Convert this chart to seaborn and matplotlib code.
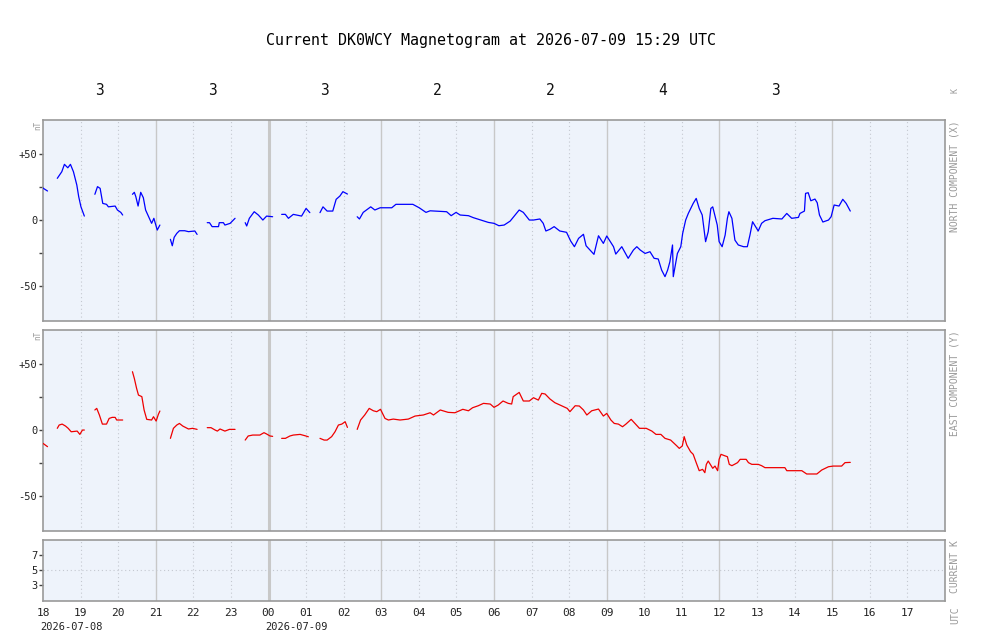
import numpy as np
import pandas as pd
import matplotlib
matplotlib.use("Agg")
import matplotlib.pyplot as plt
import seaborn as sns

nan = np.nan

title = "Current DK0WCY Magnetogram at 2026-07-09 15:29 UTC"
hour_labels = ["18", "19", "20", "21", "22", "23", "00", "01", "02", "03", "04", "05",
               "06", "07", "08", "09", "10", "11", "12", "13", "14", "15", "16", "17"]
date_labels = ["2026-07-08", "2026-07-09"]
date_hours = [0, 6]
k_index = [3, 3, 3, 2, 2, 4, 3]

# hours since 2026-07-08 18:00 UTC, nan marks a data gap
north_h = [0.0, 0.12, nan,
           0.38, 0.5, 0.57, 0.66, 0.73, 0.81, 0.9, 0.95, 1.01, 1.1, nan,
           1.38, 1.45, 1.52, 1.59, 1.69, 1.74, 1.92, 1.98, 2.07, 2.12, nan,
           2.38, 2.43, 2.47, 2.53, 2.6, 2.67, 2.73, 2.83, 2.89, 2.95, 3.04, 3.11, nan,
           3.39, 3.44, 3.49, 3.56, 3.63, 3.77, 3.87, 4.04, 4.1, nan,
           4.37, 4.43, 4.5, 4.67, 4.69, 4.8, 4.84, 4.98, 5.11, nan,
           5.38, 5.42, 5.49, 5.62, 5.73, 5.85, 5.95, 6.11, nan,
           6.35, 6.45, 6.53, 6.66, 6.88, 7.0, 7.1, nan,
           7.37, 7.45, 7.56, 7.71, 7.8, 7.9, 7.98, 8.1, nan,
           8.36, 8.42, 8.52, 8.72, 8.83, 8.97, 9.28, 9.39, 9.84, 10.01, 10.19, 10.3,
           10.74, 10.86, 10.99, 11.1, 11.32, 11.45, 11.65, 11.85, 12.0, 12.13, 12.27, 12.43,
           12.67, 12.78, 12.94, 13.05, 13.22, 13.31, 13.38, 13.49, 13.6, 13.75, 13.93, 14.04,
           14.14, 14.25, 14.38, 14.45, 14.66, 14.78, 14.91, 15.0, 15.18, 15.24, 15.4, 15.57,
           15.71, 15.8, 15.89, 16.02, 16.15, 16.26, 16.37, 16.46, 16.55, 16.62, 16.68, 16.75,
           16.77, 16.88, 16.97, 17.02, 17.1, 17.17, 17.3, 17.38, 17.46, 17.54, 17.63, 17.7,
           17.77, 17.82, 17.94, 17.99, 18.07, 18.15, 18.21, 18.25, 18.33, 18.41, 18.5, 18.64,
           18.74, 18.81, 18.88, 19.03, 19.12, 19.21, 19.42, 19.66, 19.79, 19.92, 20.1, 20.14,
           20.26, 20.29, 20.36, 20.43, 20.54, 20.6, 20.66, 20.75, 20.9, 20.97, 21.05, 21.18,
           21.28, 21.37, 21.48]
north_nt = [24.2, 22, nan,
            31.6, 36.6, 42.2, 39.6, 42.2, 36.6, 26.5, 17.7, 10, 3, nan,
            19.5, 25.3, 24, 12.6, 11.9, 10, 10.6, 7.6, 5.8, 3.8, nan,
            19.5, 21, 17.7, 10.6, 21, 16.9, 7.6, 1.3, -2.5, 1.3, -7.6, -3.8, nan,
            -14.6, -19.5, -13.1, -10.1, -8.1, -8.1, -8.8, -8.3, -10.9, nan,
            -2, -2, -5, -5, -2, -2, -3.8, -2.5, 1.3, nan,
            -2, -4.5, 1.3, 6.3, 3.8, 0, 3, 2.5, nan,
            4.3, 4.3, 1.3, 4.3, 3, 8.8, 5.6, nan,
            5.6, 10, 6.8, 6.8, 15.7, 18.2, 21.5, 19.7, nan,
            2.5, 0.8, 5.8, 10, 7.6, 9.3, 9.3, 11.9, 11.9, 9.3, 5.8, 7,
            6.3, 3.3, 5.8, 3.8, 3.3, 1.8, 0, -1.8, -2.5, -4.3, -3.8, -0.8,
            7.6, 5.8, 0, 0, 0.8, -2.5, -8.3, -7, -5, -8.3, -9.3, -15.9,
            -20.2, -13.9, -10.8, -19.5, -26, -11.9, -17.7, -12.1, -20.2, -25.8, -20.2, -29,
            -22.7, -20.2, -22.7, -25.3, -24, -29, -29.5, -37.9, -42.9, -37.9, -31.6, -18.9,
            -42.9, -25.3, -20.2, -10.1, 0, 5, 12.6, 16.4, 8.8, 3.8, -16.4, -8.8,
            8.8, 10, -3.8, -16.4, -20.2, -11.4, 1.3, 6.3, 1.3, -15.2, -18.9, -20.2,
            -20.2, -11.4, -1.3, -8.3, -2.5, -0.5, 1.3, 0.8, 5, 1.3, 2, 5,
            6.8, 20.2, 20.7, 14.6, 15.9, 13.1, 3.8, -1.5, 0, 2.5, 11.4, 10.6,
            15.7, 12.6, 6.8]

east_h = [0.0, 0.12, nan,
          0.38, 0.43, 0.51, 0.6, 0.67, 0.75, 0.91, 0.98, 1.05, 1.1, nan,
          1.38, 1.43, 1.5, 1.58, 1.69, 1.76, 1.84, 1.92, 1.96, 2.12, nan,
          2.38, 2.43, 2.49, 2.54, 2.63, 2.69, 2.76, 2.89, 2.94, 3.01, 3.07, 3.11, nan,
          3.39, 3.47, 3.56, 3.63, 3.72, 3.87, 3.98, 4.1, nan,
          4.37, 4.47, 4.58, 4.64, 4.71, 4.84, 4.96, 5.11, nan,
          5.38, 5.46, 5.58, 5.77, 5.88, 5.95, 6.04, 6.11, nan,
          6.35, 6.45, 6.57, 6.66, 6.84, 6.97, 7.06, nan,
          7.37, 7.48, 7.56, 7.68, 7.77, 7.86, 7.95, 8.04, 8.1, nan,
          8.36, 8.45, 8.56, 8.68, 8.79, 8.88, 8.98, 9.1, 9.19, 9.32, 9.5, 9.72,
          9.9, 10.12, 10.3, 10.39, 10.57, 10.78, 10.96, 11.17, 11.32, 11.43, 11.58, 11.72,
          11.9, 12.0, 12.11, 12.24, 12.38, 12.47, 12.51, 12.67, 12.78, 12.94, 13.05, 13.18,
          13.27, 13.36, 13.49, 13.62, 13.76, 13.95, 14.02, 14.16, 14.27, 14.38, 14.47, 14.6,
          14.78, 14.91, 15.0, 15.11, 15.2, 15.31, 15.42, 15.51, 15.65, 15.75, 15.87, 16.05,
          16.2, 16.31, 16.44, 16.55, 16.7, 16.86, 16.93, 17.01, 17.06, 17.13, 17.23, 17.3,
          17.38, 17.46, 17.55, 17.61, 17.65, 17.7, 17.82, 17.88, 17.95, 17.99, 18.04, 18.13,
          18.21, 18.26, 18.33, 18.41, 18.48, 18.55, 18.71, 18.77, 18.86, 19.03, 19.12, 19.21,
          19.43, 19.74, 19.79, 19.92, 20.19, 20.32, 20.59, 20.72, 20.9, 21.03, 21.25, 21.34,
          21.48]
east_nt = [-10.1, -12.6, nan,
           1.3, 3.8, 4.5, 3, 1.3, -1.3, -0.8, -3.3, 0, 0, nan,
           15.2, 16.4, 11.4, 4.5, 4.5, 8.8, 9.6, 9.6, 7.6, 7.6, nan,
           44.2, 39.1, 31.6, 26.5, 25.3, 15.2, 8.1, 7.6, 10.1, 6.8, 11.9, 14.4, nan,
           -6.3, 1.3, 3.8, 5, 3, 0.8, 1.3, 0.5, nan,
           1.8, 1.8, 0, -0.8, 0.8, -0.8, 0.5, 0.5, nan,
           -7.6, -4.5, -3.8, -3.8, -2, -3, -4.5, -4.8, nan,
           -6.3, -6.3, -4.5, -3.8, -3.3, -4.3, -5.1, nan,
           -6.3, -7.6, -7.6, -5, -1.3, 3.8, 4.5, 6.3, 2, nan,
           0.5, 7.6, 11.4, 16.4, 14.6, 13.9, 15.7, 8.8, 7.6, 8.3, 7.6, 8.3,
           10.6, 11.4, 13.1, 11.4, 15.2, 13.4, 13.1, 15.7, 14.6, 16.9, 18.4, 20.2,
           19.7, 17.2, 18.9, 22, 20.2, 19.7, 25.3, 28.5, 22, 22, 24.5, 22.7,
           27.8, 27.3, 23.5, 20.7, 18.9, 16.4, 13.9, 18.4, 18.2, 15.2, 11.4, 14.6,
           15.9, 10.6, 12.6, 7.6, 5, 4.5, 2.5, 4.5, 8.1, 5, 1.3, 1.3,
           -0.8, -3.3, -3.3, -6.3, -7.6, -11.9, -13.9, -12.1, -5, -11.4, -16.4, -18.4,
           -24.7, -30.8, -29.8, -32.3, -26, -23.5, -29, -27.3, -30.8, -22.2, -18.4, -19.4,
           -20.2, -26, -27, -25.8, -24.7, -22.2, -22.2, -24.7, -26, -26, -27, -28.5,
           -28.5, -28.5, -30.8, -30.8, -30.8, -33.3, -33.3, -30.3, -27.8, -27.3, -27.3, -24.7,
           -24.5]

sns.set_style("white")
plt.rcParams["font.family"] = ["DejaVu Sans Mono", "DejaVu Sans"]

GRAY = "#999999"
PANEL_BG = "#eef3fb"


def to_frame(hours, values):
    df = pd.DataFrame({"hour": hours, "nt": values})
    df["seg"] = df["nt"].isna().cumsum()
    return df.dropna()


def style_panel(ax):
    ax.set_facecolor(PANEL_BG)
    ax.set_xlim(0, 24)
    for h in range(1, 24):
        if h == 6:
            ax.axvline(h, color="#c8c8c8", lw=2.2, zorder=1)
        elif h % 3 == 0:
            ax.axvline(h, color="#c8c8c8", lw=1.0, zorder=1)
        else:
            ax.axvline(h, color="#c4c8d0", lw=0.8, ls=(0, (1, 2.5)), zorder=1)
    for s in ax.spines.values():
        s.set_color(GRAY)
        s.set_linewidth(1.2)
    ax.tick_params(axis="y", which="both", direction="out", length=3, width=1,
                   color="#444444", labelsize=7.5, labelcolor="#222222", pad=1, left=True)
    ax.set_xlabel("")
    ax.set_ylabel("")


fig = plt.figure(figsize=(9.84, 6.4), dpi=100)
ax_x = fig.add_axes([43 / 984, 1 - 321 / 640, 902 / 984, 201 / 640])
ax_y = fig.add_axes([43 / 984, 1 - 531 / 640, 902 / 984, 201 / 640])
ax_k = fig.add_axes([43 / 984, 1 - 601 / 640, 902 / 984, 61 / 640])

sns.lineplot(data=to_frame(north_h, north_nt), x="hour", y="nt", units="seg",
             estimator=None, sort=False, color="#0000ff", lw=0.9, ax=ax_x, zorder=3)
sns.lineplot(data=to_frame(east_h, east_nt), x="hour", y="nt", units="seg",
             estimator=None, sort=False, color="#ee0000", lw=0.9, ax=ax_y, zorder=3)

for ax, name in [(ax_x, "NORTH COMPONENT (X)"), (ax_y, "EAST COMPONENT (Y)")]:
    style_panel(ax)
    ax.set_ylim(-76.5, 75.8)
    ax.set_yticks([-50, 0, 50])
    ax.set_yticklabels(["-50", "0", "+50"])
    ax.set_yticks([-25, 25], minor=True)
    ax.set_xticks([])
    ax.text(1.011, 1.0, name, transform=ax.transAxes, rotation=90, ha="center",
            va="top", color=GRAY, fontsize=7)
    ax.text(-0.0055, 0.995, "nT", transform=ax.transAxes, rotation=90, ha="center",
            va="top", color=GRAY, fontsize=5.5)

style_panel(ax_k)
ax_k.set_ylim(0.9, 9.0)
ax_k.set_yticks([3, 5, 7])
ax_k.axhline(5, color="#c4c8d0", lw=0.8, ls=(0, (1, 2.5)), zorder=1)
ax_k.set_xticks(range(24))
ax_k.set_xticklabels(hour_labels)
ax_k.tick_params(axis="x", length=0, labelsize=8, pad=5, labelcolor="#222222")
ax_k.text(1.011, 1.0, "CURRENT K", transform=ax_k.transAxes, rotation=90,
          ha="center", va="top", color=GRAY, fontsize=7)
ax_k.annotate("UTC", xy=(1.011, 0), xycoords="axes fraction", xytext=(0, -3.6),
              textcoords="offset points", rotation=90, ha="center", va="top",
              color=GRAY, fontsize=7)
for lab, h in zip(date_labels, date_hours):
    ax_k.annotate(lab, xy=(h, 0), xycoords=("data", "axes fraction"), xytext=(-2, -18.7),
                  textcoords="offset points", ha="left", va="center", fontsize=7.5,
                  color="#222222")

for i, k in enumerate(k_index):
    ax_x.annotate(str(k), xy=(1.5 + 3 * i, 1), xycoords=("data", "axes fraction"),
                  xytext=(0, 21), textcoords="offset points", ha="center",
                  va="center", fontsize=10.5, color="#111111")
ax_x.annotate("K", xy=(1.011, 1), xycoords="axes fraction", xytext=(0, 21),
              textcoords="offset points", rotation=90, ha="center", va="center",
              color=GRAY, fontsize=6)

fig.text(491 / 984, 1 - 40 / 640, title, ha="center", va="center", fontsize=10.8,
         color="#000000")

fig.savefig("out.png", dpi=100, facecolor="white")
